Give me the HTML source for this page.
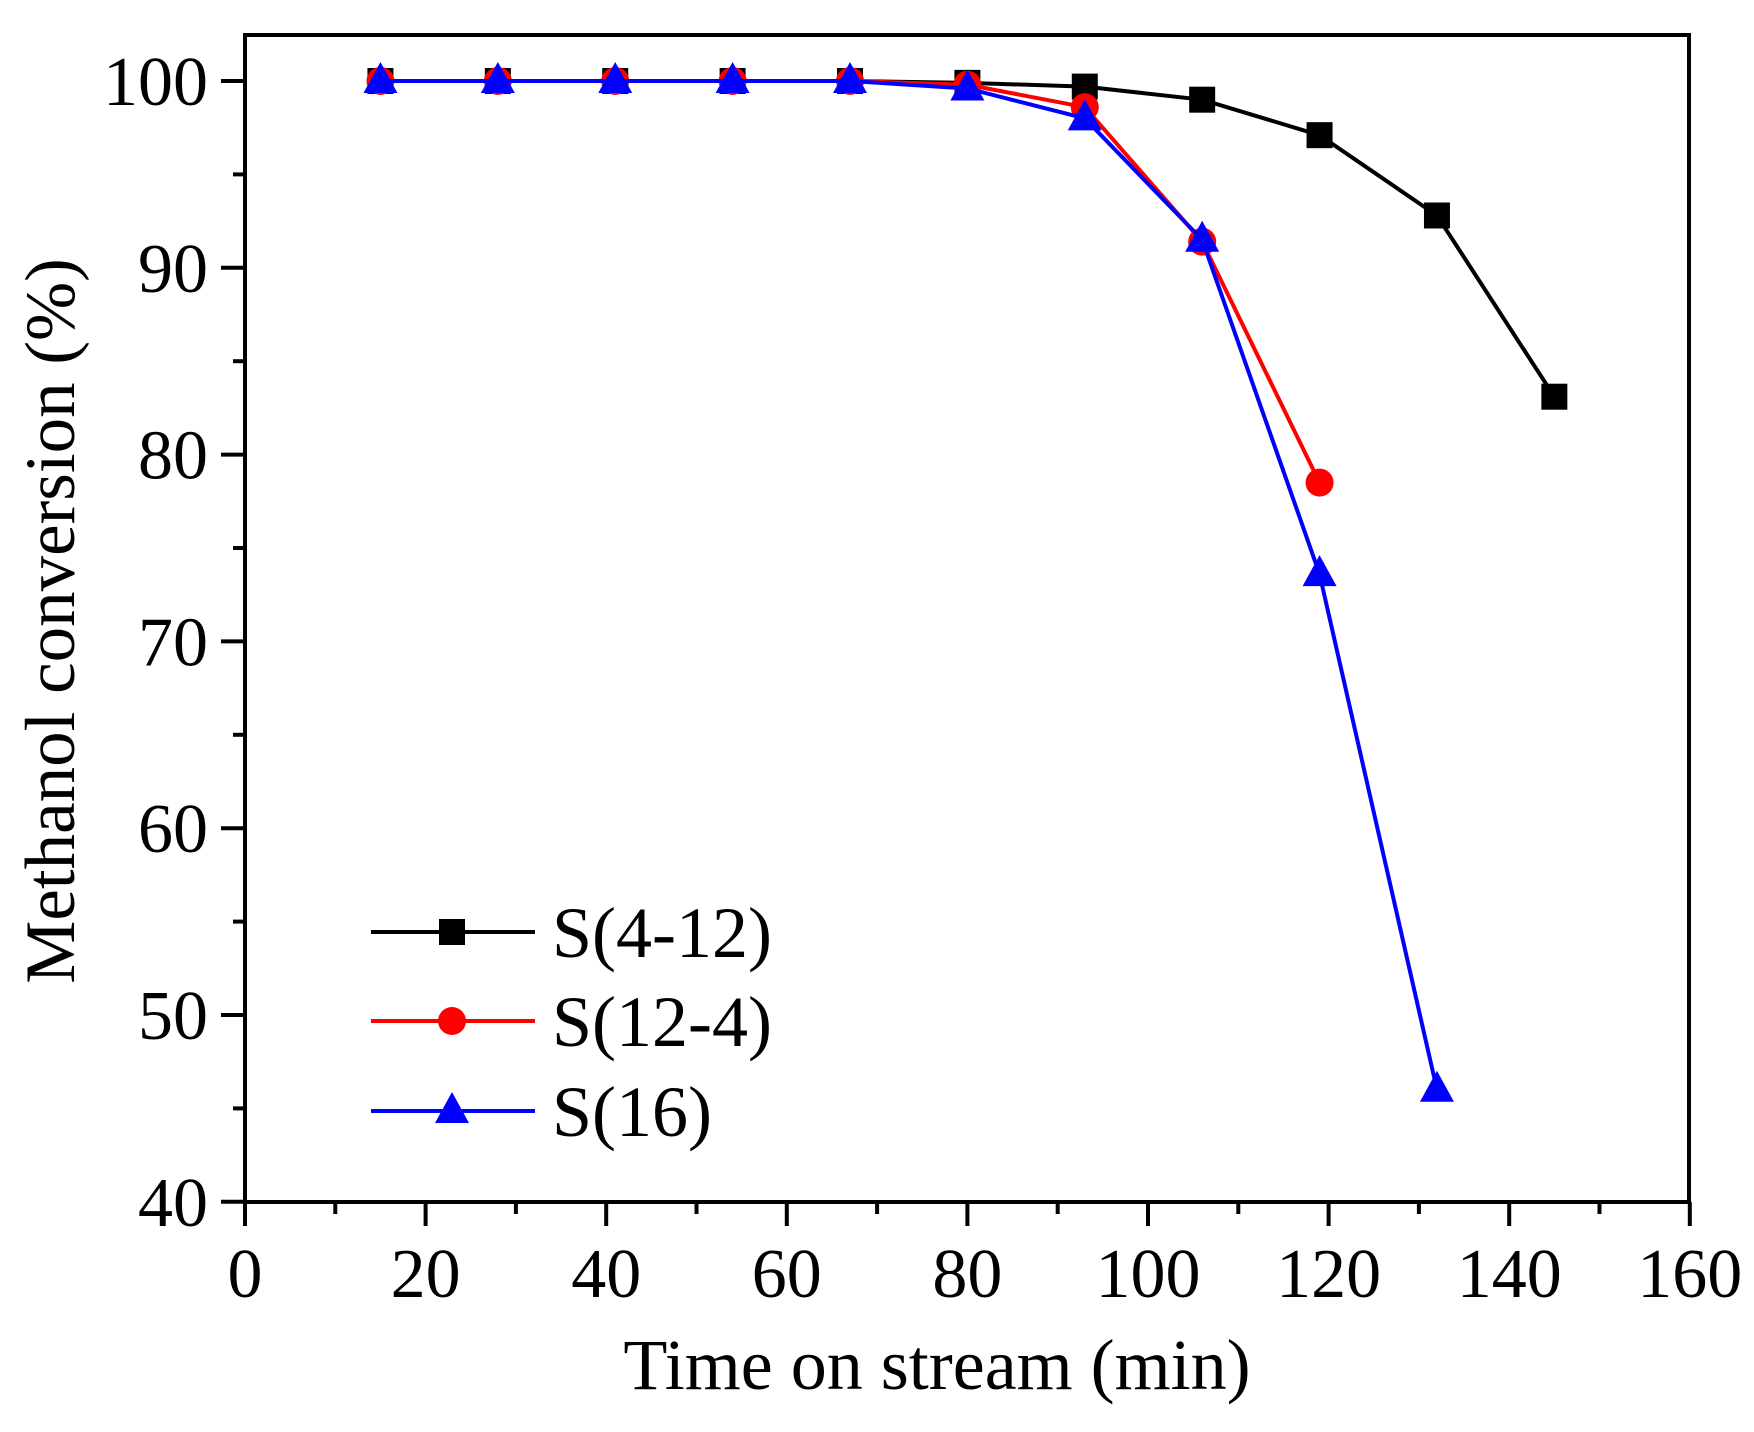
<!DOCTYPE html>
<html><head><meta charset="utf-8"><style>html,body{margin:0;padding:0;background:#fff}</style></head>
<body>
<svg id="s" width="1754" height="1427" xmlns="http://www.w3.org/2000/svg" font-family="Liberation Serif, serif"></svg>
<script>
const s=document.getElementById('s');
const X=v=>245+v*9.03, Y=v=>81+(100-v)*18.68;
let h='<rect x="0" y="0" width="1754" height="1427" fill="#fff"/>';
h+='<rect x="245" y="35" width="1444" height="1167" fill="none" stroke="#000" stroke-width="4"/>';
for(let v=0;v<=160;v+=10){const x=X(v),maj=v%20==0;h+=`<line x1="${x}" y1="1202" x2="${x}" y2="${1202+(maj?24:12)}" stroke="#000" stroke-width="4"/>`;
if(maj)h+=`<text x="${x}" y="1297" font-size="70" text-anchor="middle">${v}</text>`;}
for(let v=40;v<=100;v+=5){const y=Y(v),maj=v%10==0;h+=`<line x1="245" y1="${y}" x2="${245-(maj?24:12)}" y2="${y}" stroke="#000" stroke-width="4"/>`;
if(maj)h+=`<text x="208" y="${y+24}" font-size="70" text-anchor="end">${v}</text>`;}
h+='<text x="937" y="1389" font-size="72" text-anchor="middle">Time on stream (min)</text>';
h+='<text transform="translate(74,621) rotate(-90)" font-size="71" text-anchor="middle">Methanol conversion (%)</text>';
const t=[15,28,41,54,67,80,93,106,119,132,145];
const S=[
 {c:'#000',m:'sq',d:[100,100,100,100,100,99.9,99.7,99.0,97.1,92.8,83.1]},
 {c:'#f00',m:'ci',d:[100,100,100,100,100,99.8,98.6,91.4,78.5]},
 {c:'#00f',m:'tr',d:[100,100,100,100,100,99.6,98.0,91.5,73.6,46.0]}];
const mk=(m,x,y,c)=>m=='sq'?`<rect x="${x-13}" y="${y-13}" width="26" height="26" fill="${c}"/>`:m=='ci'?`<circle cx="${x}" cy="${y}" r="14" fill="${c}"/>`:`<polygon points="${x},${y-19} ${x-17},${y+12} ${x+17},${y+12}" fill="${c}"/>`;
S.forEach(o=>{h+=`<polyline fill="none" stroke="${o.c}" stroke-width="4" points="${o.d.map((v,i)=>X(t[i])+','+Y(v)).join(' ')}"/>`;
o.d.forEach((v,i)=>h+=mk(o.m,X(t[i]),Y(v),o.c));});
const L=[['S(4-12)',932],['S(12-4)',1021],['S(16)',1111]];
L.forEach((l,i)=>{const o=S[i];h+=`<line x1="371" y1="${l[1]}" x2="535" y2="${l[1]}" stroke="${o.c}" stroke-width="4"/>`+mk(o.m,452,l[1],o.c)+`<text x="552" y="${l[1]+25}" font-size="72">${l[0]}</text>`;});
s.innerHTML=h;
</script>
</body></html>
